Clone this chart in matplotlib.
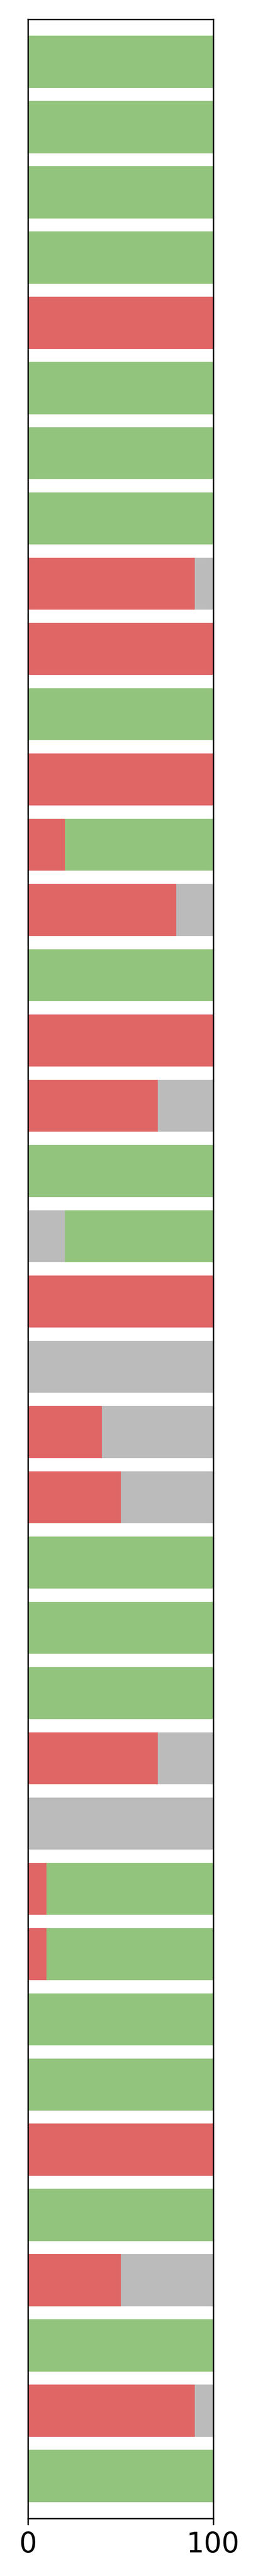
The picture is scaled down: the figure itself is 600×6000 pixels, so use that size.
import matplotlib
matplotlib.use("Agg")
import matplotlib.pyplot as plt
import numpy as np

# Shares per row (percent), stacked left to right: red, grey, green
red = [0, 0, 0, 0, 100, 0, 0, 0, 90, 100, 0, 100, 20, 80, 0, 100, 70, 0, 0, 100,
       0, 40, 50, 0, 0, 0, 70, 0, 10, 10, 0, 0, 100, 0, 50, 0, 90, 0]
grey = [0, 0, 0, 0, 0, 0, 0, 0, 10, 0, 0, 0, 0, 20, 0, 0, 30, 0, 20, 0,
        100, 60, 50, 0, 0, 0, 30, 100, 0, 0, 0, 0, 0, 0, 50, 0, 10, 0]
green = [100, 100, 100, 100, 0, 100, 100, 100, 0, 0, 100, 0, 80, 0, 100, 0, 0, 100, 80, 0,
         0, 0, 0, 100, 100, 100, 0, 0, 90, 90, 100, 100, 0, 100, 0, 100, 0, 100]
xticks = [0, 100]

RED = "#E06666"
GREY = "#BBBBBB"
GREEN = "#93C47D"

n = len(red)
y = np.arange(n)
red_a = np.array(red, dtype=float)
grey_a = np.array(grey, dtype=float)
green_a = np.array(green, dtype=float)

fig = plt.figure(figsize=(2, 20), dpi=300)
left_px, right_px, top_px, bottom_px = 65.3, 495.7, 45, 5866
ax = fig.add_axes([left_px / 600, 1 - bottom_px / 6000,
                   (right_px - left_px) / 600, (bottom_px - top_px) / 6000])

ax.barh(y, red_a, height=0.8, color=RED)
ax.barh(y, grey_a, left=red_a, height=0.8, color=GREY)
ax.barh(y, green_a, left=red_a + grey_a, height=0.8, color=GREEN)

ax.set_xlim(0, 100)
ax.set_ylim(n - 1 + 0.65, -0.65)
ax.set_yticks([])
ax.set_xticks(xticks)
ax.tick_params(axis="x", labelsize=15.5)

fig.savefig("out.png", dpi=300)
